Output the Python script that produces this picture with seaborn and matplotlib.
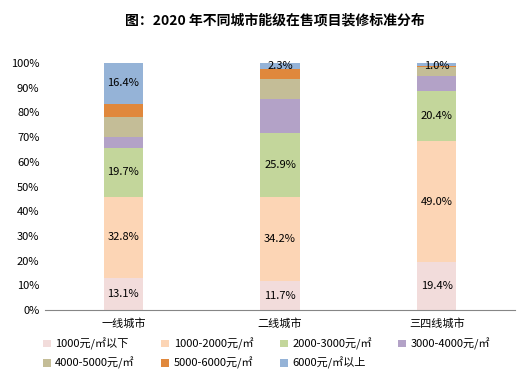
import numpy as np
import pandas as pd
import matplotlib
matplotlib.use("Agg")
import matplotlib.pyplot as plt
from matplotlib.patches import Patch
import seaborn as sns

cities = ["一线城市", "二线城市", "三四线城市"]
levels = ["1000元/㎡以下", "1000-2000元/㎡", "2000-3000元/㎡", "3000-4000元/㎡",
          "4000-5000元/㎡", "5000-6000元/㎡", "6000元/㎡以上"]
below_1000 = [13.1, 11.7, 19.4]
r1000_2000 = [32.8, 34.2, 49.0]
r2000_3000 = [19.7, 25.9, 20.4]
r3000_4000 = [4.5, 13.5, 5.8]
r4000_5000 = [8.0, 8.3, 3.8]
r5000_6000 = [5.5, 4.1, 0.6]
above_6000 = [16.4, 2.3, 1.0]
colors = ["#F2DCDB", "#FCD5B5", "#C3D69B", "#B3A2C7", "#C4BD97", "#E0883C", "#95B3D7"]
# which segments get a value label
labelled = [0, 1, 2, 6]

series = [below_1000, r1000_2000, r2000_3000, r3000_4000, r4000_5000, r5000_6000, above_6000]

sns.set_style("white")
plt.rcParams["font.family"] = ["Noto Sans CJK SC", "DejaVu Sans"]
plt.rcParams["text.color"] = "black"
plt.rcParams["xtick.color"] = "black"
plt.rcParams["ytick.color"] = "black"

fig, ax = plt.subplots(figsize=(5.23, 3.78), dpi=100)
fig.subplots_adjust(left=0.086, right=0.985, top=0.833, bottom=0.18)

bottom = np.zeros(len(cities))
for i, (name, vals) in enumerate(zip(levels, series)):
    df = pd.DataFrame({"city": cities, "val": vals})
    sns.barplot(data=df, x="city", y="val", color=colors[i], saturation=1,
                width=0.25, bottom=bottom, ax=ax, linewidth=0)
    if i in labelled:
        for j, v in enumerate(vals):
            y = bottom[j] + v / 2
            # thin top segments: label sits on top edge
            if v < 5:
                y = 99.0
            ax.text(j, y, f"{v:.1f}%", ha="center", va="center", fontsize=8, color="black")
    bottom = bottom + np.array(vals)

ax.set_ylim(0, 100)
ax.set_xlim(-0.5, 2.5)
ax.set_yticks(np.arange(0, 101, 10))
ax.set_yticklabels([f"{t}%" for t in range(0, 101, 10)], fontsize=8)
ax.tick_params(axis="x", labelsize=8, length=0, pad=6)
ax.tick_params(axis="y", length=0, pad=4)
ax.set_xlabel("")
ax.set_ylabel("")
for s in ["top", "right", "left"]:
    ax.spines[s].set_visible(False)
ax.spines["bottom"].set_color("#868686")

fig.suptitle("图：2020 年不同城市能级在售项目装修标准分布", fontsize=10,
             fontweight="bold", x=0.525, y=0.965, color="black")

# matplotlib fills legend column-wise, reorder so it reads row-wise
order = [0, 4, 1, 5, 2, 6, 3]
handles = [Patch(facecolor=colors[k], edgecolor="none") for k in order]
fig.legend(handles, [levels[k] for k in order], loc="upper left", bbox_to_anchor=(0.063, 0.133),
           ncol=4, frameon=False, fontsize=8, handlelength=0.7, handleheight=0.7,
           handletextpad=0.4, columnspacing=2.4, labelspacing=0.65)

fig.savefig("out.png", dpi=100)
